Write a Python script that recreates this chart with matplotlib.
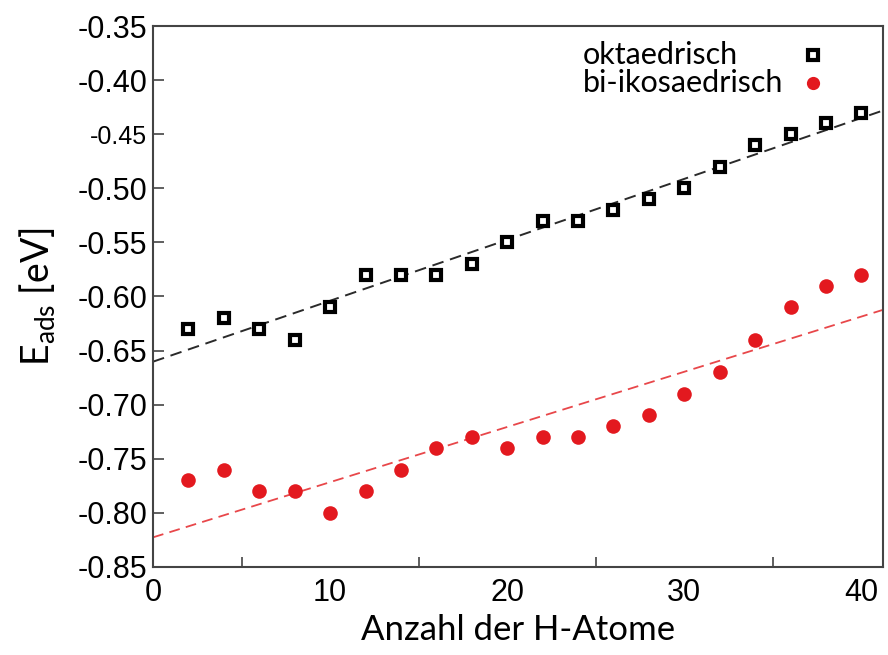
import numpy as np
import matplotlib.pyplot as plt
import matplotlib.transforms as mtransforms

# Anzahl der H-Atome
n_h = [2, 4, 6, 8, 10, 12, 14, 16, 18, 20, 22, 24, 26, 28, 30, 32, 34, 36, 38, 40]
# Adsorptionsenergien [eV]
e_okta = [-0.63, -0.62, -0.63, -0.64, -0.61, -0.58, -0.58, -0.58, -0.57, -0.55,
          -0.53, -0.53, -0.52, -0.51, -0.50, -0.48, -0.46, -0.45, -0.44, -0.43]
e_ikosa = [-0.77, -0.76, -0.78, -0.78, -0.80, -0.78, -0.76, -0.74, -0.73, -0.74,
           -0.73, -0.73, -0.72, -0.71, -0.69, -0.67, -0.64, -0.61, -0.59, -0.58]
labels = ['oktaedrisch', 'bi-ikosaedrisch']
y_ticks = [-0.35, -0.40, -0.45, -0.50, -0.55, -0.60, -0.65, -0.70, -0.75, -0.80, -0.85]
x_ticks = [0, 10, 20, 30, 40]

label_font = 'Lato'
tick_font = 'Liberation Sans'

okta_style = dict(ls='none', marker='s', mfc='white', mec='black')
ikosa_style = dict(ls='none', marker='o', mfc='#e3191f', mec='#e3191f', mew=0)

fig = plt.figure(figsize=(8.88, 6.55), dpi=100)
ax = fig.add_axes([0.1723, 0.1344, 0.8216, 0.8259])

x = np.array(n_h)
xfit = np.linspace(0, 41.2, 50)

# lineare Fits
p_okta = np.polyfit(x, e_okta, 1)
p_ikosa = np.polyfit(x, e_ikosa, 1)
ax.plot(xfit, np.polyval(p_okta, xfit), color='#2a2a2a', ls=(0, (6, 3.5)), lw=1.4, zorder=1)
ax.plot(xfit, np.polyval(p_ikosa, xfit), color='#e8474a', ls=(0, (6, 3.5)), lw=1.3, zorder=1)

ax.plot(x, e_okta, ms=7.2, mew=3.0, zorder=3, **okta_style)
ax.plot(x, e_ikosa, ms=10.5, zorder=3, **ikosa_style)

ax.set_xlim(0, 41.2)
ax.set_ylim(-0.85, -0.35)
ax.set_xticks(x_ticks)
ax.set_xticks([5, 15, 25, 35], minor=True)
ax.set_yticks(y_ticks)
ax.set_xticklabels([str(v) for v in x_ticks], fontsize=22, family=tick_font)
ax.set_yticklabels(['%.2f' % v for v in y_ticks], fontsize=22, family=tick_font)

# -0.45 etwas kleiner und nach links versetzt
lbl = ax.get_yticklabels()[2]
lbl.set_fontsize(18)
lbl.set_transform(lbl.get_transform() +
                  mtransforms.ScaledTranslation(-0.12, 0, fig.dpi_scale_trans))

ax.tick_params(axis='both', which='both', direction='in', length=8, width=1.2, color='#444444')
ax.tick_params(axis='x', which='minor', length=7)
ax.tick_params(axis='x', which='major', length=0, pad=8)
ax.tick_params(axis='y', pad=4)
for s in ax.spines.values():
    s.set_linewidth(1.5)
    s.set_color('#444444')

ax.set_xlabel('Anzahl der H-Atome', fontsize=25, family=label_font, labelpad=4)
ax.set_ylabel(r'E$_{\mathregular{ads}}$ [eV]', fontsize=27, family=label_font, labelpad=14)

# Legende von Hand: Text linksbündig, Symbol rechts daneben
for label, style, size, row_y in [(labels[0], dict(okta_style, mew=3.0), 6.8, 0.947),
                                  (labels[1], ikosa_style, 9.5, 0.895)]:
    ax.text(0.589, row_y, label, transform=ax.transAxes, ha='left', va='center',
            family=label_font, fontsize=22)
    ax.plot([0.905], [row_y], transform=ax.transAxes, ms=size, clip_on=False, **style)

fig.savefig('out.png', dpi=100)
